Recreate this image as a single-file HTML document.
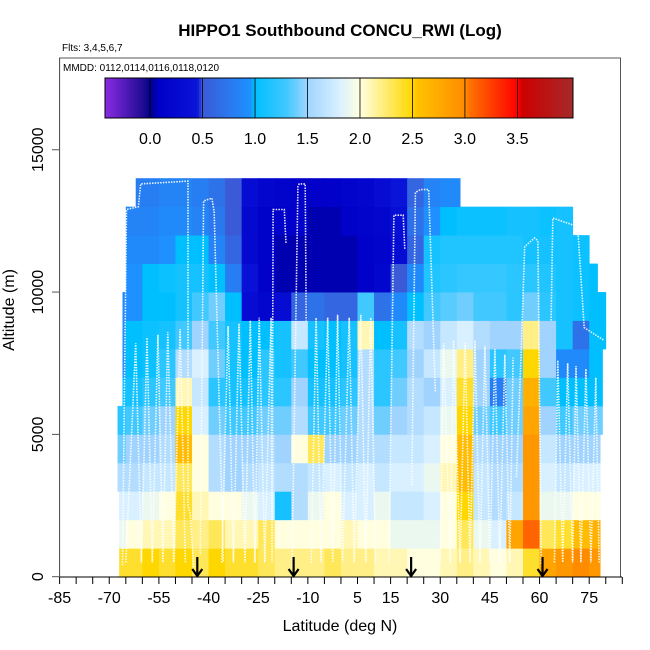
<!DOCTYPE html>
<html><head><meta charset="utf-8"><style>
html,body{margin:0;padding:0;background:#fff;}
svg{display:block;font-family:"Liberation Sans",Arial,sans-serif;}
</style></head><body>
<svg id="chart" width="650" height="650" viewBox="0 0 650 650" xmlns="http://www.w3.org/2000/svg">
<text x="340" y="36" text-anchor="middle" font-size="17" font-weight="bold">HIPPO1 Southbound CONCU_RWI (Log)</text>
<text x="62" y="51" font-size="10">Flts: 3,4,5,6,7</text>
<g id="heat"></g>
<g id="track"></g>
<g id="arrows"></g>
<rect x="59.5" y="58" width="561" height="519" fill="none" stroke="#555" stroke-width="1"/>
<text x="63" y="71" font-size="10">MMDD: 0112,0114,0116,0118,0120</text>
<g id="cbar"></g>
<g id="xaxis"></g>
<g id="yaxis"></g>
<text x="340" y="631" text-anchor="middle" font-size="16">Latitude (deg N)</text>
<text transform="translate(14,310) rotate(-90)" text-anchor="middle" font-size="16">Altitude (m)</text>
</svg>
<script>
// ---- data ----
const latEdges = [-70,-65,-60,-55,-50,-45,-40,-35,-30,-25,-20,-15,-10,-5,0,5,10,15,20,25,30,35,40,45,50,55,60,65,70,75,80];
const altEdges = [0,1000,2000,3000,4000,5000,6000,7000,8000,9000,10000,11000,12000,13000,14000];
const rowMinLat = [-67,-67,-67,-67.5,-67.5,-67.5,-66,-66,-66,-66,-65.5,-65.5,-65.5,-62];
const rowMaxLat = [78.3,78.3,78.3,78.3,78.3,79,79,79,80,80,77.5,76,72,36];
const logVals = [
[2.4,2.4,2.5,2.4,2.5,2.3,2.5,2.4,2.4,2.3,2.2,2.2,2.2,2.3,2.2,2.2,2.1,2.1,2.0,2.0,2.1,2.2,2.1,2.0,2.1,2.4,2.8,2.9,3.0,2.9],
[1.9,2.0,2.1,2.1,2.3,2.2,2.3,2.1,2.1,2.3,2.0,2.0,2.0,2.0,2.1,2.0,2.0,1.9,1.9,1.9,2.0,2.3,1.9,1.8,2.8,3.1,2.3,2.4,2.6,2.7],
[1.8,1.8,1.9,2.0,2.4,2.1,2.0,2.0,1.9,1.8,1.1,1.6,1.9,2.0,1.8,1.8,1.9,1.7,1.7,1.8,2.0,2.5,1.7,1.6,1.7,2.9,1.9,1.9,2.0,2.0],
[1.6,1.6,1.7,1.7,2.3,2.0,1.6,1.5,1.6,1.7,1.6,1.6,1.7,1.8,1.7,1.8,1.7,1.8,1.8,1.9,2.1,2.6,1.7,1.6,1.6,2.9,1.8,1.7,1.8,1.8],
[1.4,1.5,1.5,1.6,2.6,2.0,1.6,1.5,1.5,1.6,1.5,2.0,2.3,1.5,1.5,1.6,1.6,1.7,1.7,1.8,2.0,2.6,1.6,1.5,1.5,2.9,1.7,1.5,1.5,1.5],
[1.2,1.3,1.4,1.5,2.5,1.8,1.4,1.3,1.3,1.4,1.4,1.6,1.3,1.3,1.4,1.6,1.4,1.5,1.6,1.7,1.9,2.5,1.4,1.3,1.4,2.8,1.5,1.3,1.4,1.4],
[1.0,1.1,1.2,1.3,2.1,1.7,1.2,1.1,1.1,1.2,1.2,1.5,1.1,1.1,1.2,1.6,1.2,1.4,1.6,1.5,1.8,2.4,1.5,0.8,1.4,2.7,1.3,1.0,1.0,1.0],
[0.95,1.0,1.05,1.2,1.6,1.8,1.4,1.1,1.0,1.2,1.1,1.3,1.0,1.0,1.1,1.6,1.2,1.3,1.5,1.7,1.9,2.2,1.5,1.2,1.3,2.5,1.5,0.9,0.9,1.0],
[0.95,1.0,1.05,1.1,1.3,1.5,1.3,1.1,1.0,1.0,1.1,1.7,1.1,1.0,1.1,2.1,1.0,1.1,1.6,1.5,1.7,1.8,1.6,1.5,1.5,2.2,1.5,1.1,0.7,1.0],
[0.9,0.95,1.0,1.0,1.1,1.3,1.4,1.0,0.3,0.2,0.3,0.6,0.7,0.6,0.6,1.3,0.7,0.9,1.0,1.3,1.35,1.4,1.3,1.3,1.2,1.4,1.2,1.1,1.05,1.0],
[null,0.95,1.0,1.05,1.1,1.1,1.0,0.8,0.4,0.1,0.05,0.05,0.05,0.05,0.05,0.1,0.2,0.5,0.9,1.15,1.2,1.25,1.25,1.25,1.2,1.2,1.15,1.1,1.05,1.0],
[null,0.9,0.9,0.95,1.0,1.0,0.85,0.6,0.25,0.1,0.05,0.05,0.05,0.05,0.05,0.1,0.15,0.3,0.6,1.1,1.15,1.15,1.15,1.15,1.15,1.1,1.1,1.1,1.05,null],
[null,0.85,0.85,0.9,0.9,0.85,0.75,0.5,0.25,0.1,0.1,0.1,0.05,0.05,0.1,0.15,0.2,0.35,0.7,0.95,1.0,1.05,1.05,1.05,1.1,1.1,1.05,1.1,null,null],
[null,0.8,0.8,0.85,0.85,0.8,0.7,0.5,0.3,0.2,0.15,0.1,0.1,0.1,0.15,0.2,0.3,0.45,0.6,0.85,0.9,0.9,0.95,null,null,null,null,null,null,null]
];
const trackLat = [-65,-62,-60.3,-58.6,-57,-55.3,-53.8,-52.3,-50.5,-48.6,-47,null,
-66,-64.8,-61.2,-60.5,-46.2,-46.2,-45.5,-44.5,null,
-42.5,-41.5,-39,-38.3,-35.5,null,
-36,-34.1,-32.5,-30.8,-29,-27.4,-26,-24.7,-23,-21.1,-20.8,-20.5,-17.1,-16.6,null,
-14.8,-13,-12.6,-10.8,-10.5,null,
-9,-7.5,-6,-4,-2.5,-1,0.5,2.5,4,6,7.5,9,10.5,null,
14.5,16,18.8,19.3,null,
21.4,22.5,24,26.5,28.5,null,
30,31,33,34,36,37.5,39,40.5,42,43.5,45,46.5,48,49.5,51,52,null,
53,54.5,55.5,58.5,59.5,60.5,null,
63.5,64,71.5,73.5,79.5,null,
64.5,65.5,67,68.5,70,71,72.5,74,75.5,77,78];
const trackAlt = [500,8200,500,8400,500,8500,500,8600,500,8700,500,null,
400,12900,13000,13800,13900,2500,2200,300,null,
800,13200,13300,12800,500,null,
500,8800,500,8900,500,9000,500,9100,500,9100,500,12900,12900,11700,null,
300,13700,13800,13800,9000,null,
500,9100,500,9100,500,9200,500,9100,500,9200,500,9100,500,null,
500,12700,12700,11500,null,
3200,13500,13600,13600,6500,null,
500,8200,500,8300,500,8200,500,8300,500,8100,500,8000,500,7800,500,7700,null,
3500,8000,11600,11900,11800,400,null,
9000,12600,12300,8750,8300,null,
500,7600,500,7500,500,7400,500,7300,500,7000,500];
const arrowLats = [-43.4,-14.3,21.2,60.9];
const xTickLats = [-85,-80,-75,-70,-65,-60,-55,-50,-45,-40,-35,-30,-25,-20,-15,-10,-5,0,5,10,15,20,25,30,35,40,45,50,55,60,65,70,75,80,85];
const xLabelLats = [-85,-70,-55,-40,-25,-10,5,15,30,45,60,75];
const yTicks = [0,5000,10000,15000];
const cbarTicks = [0.0,0.5,1.0,1.5,2.0,2.5,3.0,3.5];
const cbarMin = -0.43, cbarMax = 4.03;

// ---- scales ----
const NS='http://www.w3.org/2000/svg';
function X(lat){return 59.6+(lat+85)*3.31;}
function Y(alt){return 576.7-alt*0.028464;}
function CX(v){return 105+(v-cbarMin)/(cbarMax-cbarMin)*468;}
const stops=[[-0.43,'#8a2be2'],[-0.05,'#1a0a90'],[0.0,'#00008b'],[0.08,'#0000c8'],[0.45,'#0a14d8'],[0.5,'#3a5ad8'],[0.95,'#1e90ff'],[1.0,'#00bfff'],[1.3,'#40c8ff'],[1.5,'#a0d4ff'],[1.8,'#d8f0ff'],[2.0,'#ffffe0'],[2.5,'#ffd700'],[2.55,'#ffc200'],[3.0,'#ff8c00'],[3.05,'#ff7000'],[3.5,'#ff0000'],[3.55,'#cd0000'],[4.03,'#a52a2a']];
function hex(c){return [parseInt(c.slice(1,3),16),parseInt(c.slice(3,5),16),parseInt(c.slice(5,7),16)];}
function col(v){
  if(v<=stops[0][0])return stops[0][1];
  for(let i=1;i<stops.length;i++){
    if(v<=stops[i][0]){const a=stops[i-1],b=stops[i];const t=(v-a[0])/(b[0]-a[0]);
      const ca=hex(a[1]),cb=hex(b[1]);
      return 'rgb('+ca.map((q,k)=>Math.round(q+(cb[k]-q)*t)).join(',')+')';}
  }
  return stops[stops.length-1][1];
}
function mk(tag,attrs,parent){const e=document.createElementNS(NS,tag);for(const k in attrs)e.setAttribute(k,attrs[k]);parent.appendChild(e);return e;}

// ---- heatmap ----
const heat=document.getElementById('heat');
for(let r=0;r<logVals.length;r++){
  for(let c=0;c<logVals[r].length;c++){
    const v=logVals[r][c]; if(v===null)continue;
    const l0=Math.max(latEdges[c],rowMinLat[r]), l1=Math.min(latEdges[c+1],rowMaxLat[r]);
    if(l1<=l0)continue;
    const x0=X(l0),x1=X(l1),y0=Y(altEdges[r+1]),y1=Y(altEdges[r]);
    const e=mk('rect',{x:x0.toFixed(2),y:y0.toFixed(2),width:(x1-x0+0.4).toFixed(2),height:(y1-y0+0.4).toFixed(2),fill:col(v)},heat);
    
    
  }
}

// ---- flight track ----
const trk=document.getElementById('track');
let pts=[];
function flush(){ if(pts.length>1){const p=mk('polyline',{points:pts.join(' '),fill:'none',stroke:'#fff','stroke-width':'1.6','stroke-dasharray':'1.5,1.2','stroke-opacity':'0.9'},trk);
  
  } pts=[];}
for(let i=0;i<trackLat.length;i++){
  if(trackLat[i]===null||trackAlt[i]===null){flush();continue;}
  pts.push(X(trackLat[i]).toFixed(1)+','+Y(trackAlt[i]).toFixed(1));
}
flush();

// ---- arrows ----
const arr=document.getElementById('arrows');
arrowLats.forEach(l=>{
  const x=X(l);
  const g=mk('g',{},arr);
  
  
  mk('line',{x1:x,y1:557,x2:x,y2:576,stroke:'#000','stroke-width':'2.2'},g);
  mk('polyline',{points:(x-5)+',569 '+x+',576 '+(x+5)+',569',fill:'none',stroke:'#000','stroke-width':'2.2'},g);
});

// ---- colorbar ----
const cb=document.getElementById('cbar');
const N=234;
for(let i=0;i<N;i++){
  const v=cbarMin+(i+0.5)/N*(cbarMax-cbarMin);
  mk('rect',{x:(105+i*468/N).toFixed(2),y:78,width:(468/N+0.3).toFixed(2),height:40,fill:col(v)},cb);
}
mk('rect',{x:105,y:78,width:468,height:40,fill:'none',stroke:'#000','stroke-width':'1'},cb);
cbarTicks.forEach(t=>{
  const x=CX(t);
  mk('line',{x1:x,y1:78,x2:x,y2:118,stroke:'#000','stroke-width':'0.8'},cb);
  const tx=mk('text',{x:x,y:144,'text-anchor':'middle','font-size':'16'},cb);
  tx.textContent=t.toFixed(1);
  
  
});

// ---- axes ----
const xa=document.getElementById('xaxis');
mk('line',{x1:59.6,y1:577,x2:622,y2:577,stroke:'#000','stroke-width':'1'},xa);
xTickLats.forEach(l=>{mk('line',{x1:X(l),y1:577,x2:X(l),y2:584,stroke:'#000','stroke-width':'1'},xa);});
xLabelLats.forEach(l=>{
  const t=mk('text',{x:X(l),y:603,'text-anchor':'middle','font-size':'16'},xa);
  t.textContent=String(l);
  
  
});
const ya=document.getElementById('yaxis');
mk('line',{x1:59.6,y1:58,x2:59.6,y2:577,stroke:'#555','stroke-width':'1'},ya);
yTicks.forEach(v=>{
  const y=Y(v);
  mk('line',{x1:52,y1:y,x2:59.6,y2:y,stroke:'#555','stroke-width':'1'},ya);
  const t=mk('text',{transform:'translate(43,'+y.toFixed(1)+') rotate(-90)','text-anchor':'middle','font-size':'16'},ya);
  t.textContent=String(v);
  
  
});
</script>
</body></html>
